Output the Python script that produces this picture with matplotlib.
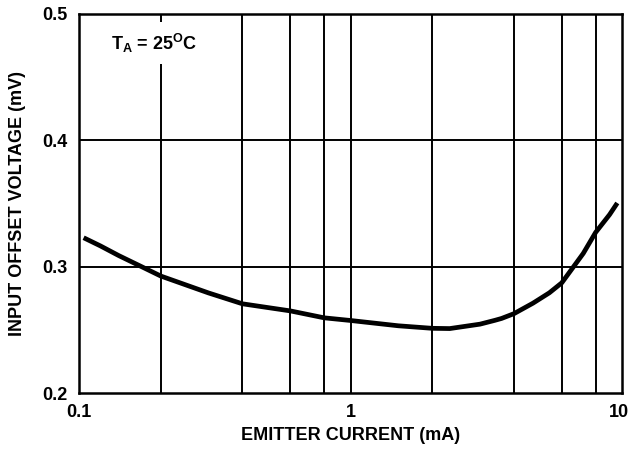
import numpy as np
from matplotlib import pyplot as plt
from matplotlib.transforms import ScaledTranslation

# emitter current (mA) and input offset voltage (mV)
current = [0.104, 0.12, 0.14, 0.17, 0.2, 0.3, 0.4, 0.6, 0.8, 1.0, 1.5, 2.0, 2.32,
           3.0, 3.4, 3.6, 4.0, 4.7, 5.4, 6.0, 7.2, 8.0, 9.0, 9.61]
voltage = [0.3229, 0.3164, 0.3088, 0.300, 0.2926, 0.2792, 0.2706, 0.265, 0.2595, 0.2574,
           0.2532, 0.2512, 0.251, 0.2545, 0.2575, 0.2590, 0.2628, 0.2711, 0.2793, 0.2872,
           0.3105, 0.3272, 0.3412, 0.3504]

grid_x = [0.2, 0.4, 0.6, 0.8, 1, 2, 4, 6, 8]
grid_y = [0.3, 0.4]
xticks = [0.1, 1, 10]
xtick_labels = ['0.1', '1', '10']
yticks = [0.2, 0.3, 0.4, 0.5]
ytick_labels = ['0.2', '0.3', '0.4', '0.5']

plt.rcParams['font.family'] = ['Liberation Sans', 'DejaVu Sans']
plt.rcParams['font.weight'] = 'bold'
plt.rcParams['mathtext.fontset'] = 'custom'
plt.rcParams['mathtext.rm'] = 'Liberation Sans:bold'
plt.rcParams['mathtext.bf'] = 'Liberation Sans:bold'
plt.rcParams['mathtext.it'] = 'Liberation Sans:bold'

fig = plt.figure(figsize=(6.3, 4.53), dpi=100)
ax = fig.add_axes([79 / 630, 60 / 453, 543 / 630, 379 / 453])

ax.set_xscale('log')
ax.set_xlim(0.1, 10)
ax.set_ylim(0.2, 0.5)

for gx in grid_x:
    ax.axvline(gx, color='black', lw=1.4, zorder=1)
for gy in grid_y:
    ax.axhline(gy, color='black', lw=1.4, zorder=1)

ax.plot(current, voltage, color='black', lw=3.4, solid_capstyle='butt',
        solid_joinstyle='round', zorder=3)

ax.text(0.131, 0.477, r'$\mathrm{T_A}$ = 25$^\mathrm{O}$C', fontsize=13, fontweight='bold',
        ha='left', va='center', zorder=4,
        bbox=dict(facecolor='white', edgecolor='none', pad=7))

ax.set_xticks(xticks)
ax.set_xticklabels(xtick_labels)
ax.xaxis.set_minor_locator(plt.NullLocator())
ax.set_yticks(yticks)
ax.set_yticklabels(ytick_labels)
ax.tick_params(length=0, labelsize=13, pad=8)
for lab in ax.get_xticklabels() + ax.get_yticklabels():
    lab.set_fontweight('bold')
# "10" sits right at the edge, nudge it in a little
last = ax.get_xticklabels()[-1]
last.set_transform(last.get_transform() + ScaledTranslation(-3 / 100, 0, fig.dpi_scale_trans))

for s in ax.spines.values():
    s.set_linewidth(1.8)

ax.set_xlabel('EMITTER CURRENT (mA)', fontsize=13, fontweight='bold', labelpad=4)
ax.set_ylabel('INPUT OFFSET VOLTAGE (mV)', fontsize=13, fontweight='bold', labelpad=12)

fig.savefig('out.png', dpi=100)
